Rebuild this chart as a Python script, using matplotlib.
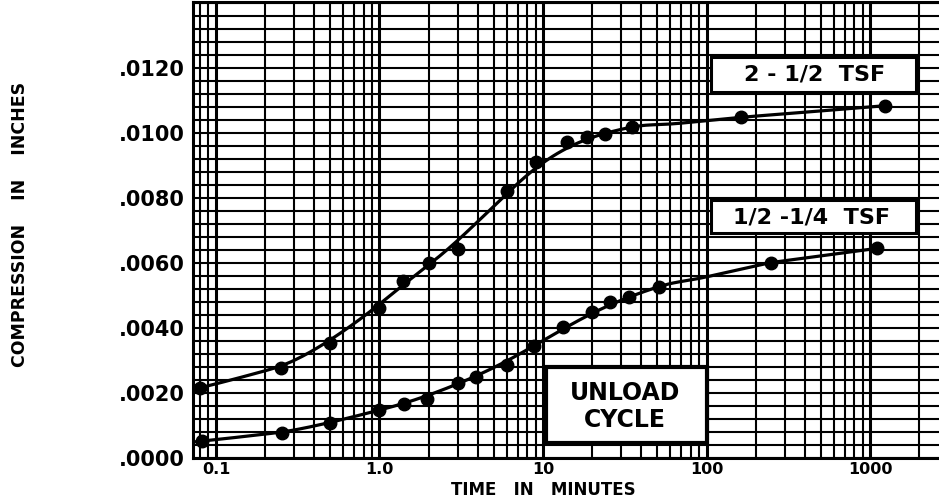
import numpy as np
import matplotlib
matplotlib.use("Agg")
import matplotlib.pyplot as plt
from matplotlib.ticker import LogLocator, MultipleLocator, FixedLocator, FuncFormatter, NullFormatter
from matplotlib.patches import Rectangle

# ---- data ----
t_upper = [0.08, 0.25, 0.5, 1.0, 1.4, 2.0, 3.0, 6.0, 9.0, 14, 18.5, 24, 35, 162, 1240]
v_upper = [0.00216, 0.00277, 0.00354, 0.00462, 0.00544, 0.00601, 0.00644, 0.00822,
           0.00910, 0.00973, 0.00987, 0.00997, 0.01019, 0.01048, 0.01084]
t_lower = [0.082, 0.255, 0.5, 1.0, 1.42, 1.95, 3.0, 3.9, 6.0, 8.8, 13.2, 19.8, 25.6, 33.7, 51, 246, 1100]
v_lower = [0.00052, 0.00078, 0.00107, 0.00148, 0.00167, 0.00182, 0.00231, 0.00248, 0.00287,
           0.00344, 0.00403, 0.00448, 0.00479, 0.00495, 0.00527, 0.00601, 0.00645]
y_tick_values = [0.0, 0.002, 0.004, 0.006, 0.008, 0.010, 0.012]
x_tick_values = [0.1, 1.0, 10, 100, 1000]
x_tick_labels = ["0.1", "1.0", "10", "100", "1000"]
label_upper = "2 - 1/2  TSF"
label_lower = "1/2 -1/4  TSF"
label_cycle = "UNLOAD\nCYCLE"

XMIN, XMAX = 0.0724, 2870
YMIN, YMAX = 0.0, 0.01403


def smooth_curve(t, v, x_start, x_end, bw=0.22, n=400):
    """Local linear regression in log10(t) to draw a smooth fitted curve."""
    lx = np.log10(np.asarray(t, float))
    vv = np.asarray(v, float)
    grid = np.linspace(np.log10(x_start), np.log10(x_end), n)
    out = []
    for g in grid:
        w = np.exp(-0.5 * ((lx - g) / bw) ** 2) + 1e-12
        Wt = np.sum(w)
        mx = np.sum(w * lx) / Wt
        my = np.sum(w * vv) / Wt
        sxx = np.sum(w * (lx - mx) ** 2)
        sxy = np.sum(w * (lx - mx) * (vv - my))
        b = sxy / sxx if sxx > 1e-14 else 0.0
        out.append(my + b * (g - mx))
    return 10 ** grid, np.array(out)


fig = plt.figure(figsize=(9.39, 4.98), dpi=100)
W, H = 939, 498
left, right, top, bottom = 193, 945, 2, 458
ax = fig.add_axes([left / W, (H - bottom) / H, (right - left) / W, (bottom - top) / H])

ax.set_xscale("log")
ax.set_xlim(XMIN, XMAX)
ax.set_ylim(YMIN, YMAX)

# grid
ax.xaxis.set_major_locator(FixedLocator(x_tick_values))
ax.xaxis.set_minor_locator(LogLocator(base=10, subs=np.arange(2, 10), numticks=20))
ax.xaxis.set_minor_formatter(NullFormatter())
ax.set_xticklabels(x_tick_labels)
ax.yaxis.set_major_locator(FixedLocator(y_tick_values))
ax.yaxis.set_minor_locator(MultipleLocator(0.0004))
ax.yaxis.set_major_formatter(FuncFormatter(lambda v, p: ("%.4f" % v)[1:]))

ax.grid(True, which="major", axis="x", color="black", lw=2.2)
ax.grid(True, which="minor", axis="x", color="black", lw=1.5)
ax.grid(True, which="both", axis="y", color="black", lw=1.5)
ax.set_axisbelow(True)

ax.tick_params(which="both", length=0)
ax.tick_params(axis="y", pad=6, labelsize=15)
ax.tick_params(axis="x", pad=3, labelsize=11.5)
for lab in ax.get_yticklabels() + ax.get_xticklabels():
    lab.set_fontweight("bold")
for s in ["left", "top", "bottom"]:
    ax.spines[s].set_linewidth(2.2)
ax.spines["right"].set_visible(False)

# curves
xu, yu = smooth_curve(t_upper, v_upper, XMIN, t_upper[-1])
xl, yl = smooth_curve(t_lower, v_lower, XMIN, t_lower[-1])
ax.plot(xu, yu, color="black", lw=2.3, zorder=3)
ax.plot(xl, yl, color="black", lw=2.3, zorder=3)
ax.plot(t_upper, v_upper, "o", color="black", ms=9, zorder=4)
ax.plot(t_lower, v_lower, "o", color="black", ms=9, zorder=4)

# label boxes (axes fraction)
def box(x0, y0, x1, y1, lw=2.2):
    ax.add_patch(Rectangle((x0, y0), x1 - x0, y1 - y0, transform=ax.transAxes,
                           facecolor="white", edgecolor="black", lw=lw, zorder=5))

box(0.689, 0.803, 0.961, 0.879)
ax.text(0.827, 0.842, label_upper, transform=ax.transAxes, ha="center", va="center",
        fontsize=16, fontweight="bold", zorder=6)
box(0.689, 0.493, 0.961, 0.566)
ax.text(0.822, 0.528, label_lower, transform=ax.transAxes, ha="center", va="center",
        fontsize=16, fontweight="bold", zorder=6)
box(0.469, 0.033, 0.684, 0.200, lw=3)
ax.text(0.574, 0.113, label_cycle, transform=ax.transAxes, ha="center", va="center",
        fontsize=17, fontweight="bold", linespacing=1.15, zorder=6)

fig.text(543 / W, 1 - 490 / H, "TIME   IN   MINUTES", ha="center", va="center",
         fontsize=12, fontweight="bold")
fig.text(20 / W, 1 - 224 / H, "COMPRESSION    IN    INCHES", ha="center", va="center",
         rotation=90, fontsize=12.5, fontweight="bold")

fig.savefig("out.png", dpi=100)
